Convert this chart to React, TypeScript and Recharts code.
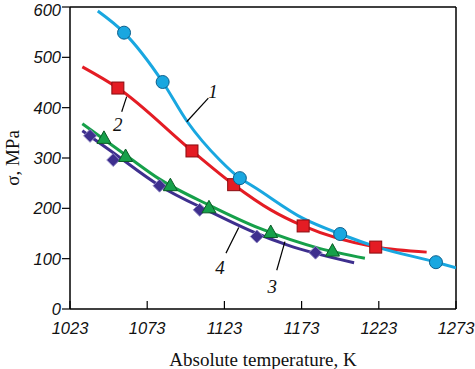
import { ComposedChart, Line, Scatter, XAxis, YAxis, ReferenceLine, ReferenceDot, Label } from 'recharts'

// smooth fitted curves
const curve1 = [[1041, 592], [1058, 549], [1083, 451], [1099, 372], [1120, 296], [1133, 260], [1142, 243], [1174, 180], [1198, 149], [1222, 123], [1260, 93], [1273, 82]]
const curve2 = [[1031, 481], [1054, 439], [1102, 314], [1129, 247], [1153, 197], [1174, 165], [1221, 123], [1254, 113]]
const curve3 = [[1031, 368], [1059, 306], [1081, 258], [1114, 205], [1146, 160], [1185, 120], [1214, 101]]
const curve4 = [[1031, 354], [1049, 315], [1081, 245], [1114, 193], [1144, 150], [1164, 127], [1207, 92]]

// measured points
const points1 = [[1058, 549], [1083, 451], [1133, 260], [1198, 149], [1260, 93]]
const points2 = [[1054, 439], [1102, 314], [1129, 247], [1174, 165], [1221, 123]]
const points3 = [[1045, 339], [1059, 303], [1088, 245], [1113, 201], [1153, 152], [1193, 115]]
const points4 = [[1036, 344], [1051, 296], [1081, 245], [1107, 197], [1144, 144], [1182, 112]]

const xTicks = [1023, 1073, 1123, 1173, 1223, 1273]
const yTicks = [0, 100, 200, 300, 400, 500, 600]

// curve labels: leader line from -> to, label position
const callouts = [
  { text: '1', from: [1098.6, 372], to: [1112.6, 419], at: [1115.6, 433] },
  { text: '2', from: [1059.7, 422], to: [1056.5, 392], at: [1053.9, 366] },
  { text: '3', from: [1162.2, 134], to: [1156.9, 77], at: [1154, 45] },
  { text: '4', from: [1132.3, 162], to: [1124, 111], at: [1120.2, 82] },
]

const toXY = (arr: number[][]) => arr.map(([x, y]) => ({ x, y }))

const C1 = '#19a7e0'
const C2 = '#e41c24'
const C3 = '#16a04a'
const C4 = '#3e2f8e'

const tickFont = { fontFamily: 'Liberation Sans', fontStyle: 'italic', fontSize: 16.5, fill: '#111' }

function Circle(p: any) {
  return <circle cx={p.cx} cy={p.cy} r={6.5} fill={C1} stroke="#0d5f8c" strokeWidth={1} />
}
function Square(p: any) {
  return <rect x={p.cx - 6} y={p.cy - 6} width={12} height={12} fill={C2} stroke="#8a0c10" strokeWidth={1} />
}
function Triangle(p: any) {
  const { cx, cy } = p
  return <polygon points={`${cx},${cy - 7.5} ${cx + 7},${cy + 5} ${cx - 7},${cy + 5}`} fill={C3} stroke="#0b5a26" strokeWidth={1} />
}
function Diamond(p: any) {
  const { cx, cy } = p
  return <polygon points={`${cx},${cy - 6.5} ${cx + 6.5},${cy} ${cx},${cy + 6.5} ${cx - 6.5},${cy}`} fill={C4} stroke="#9088c4" strokeWidth={1} />
}

export default function App() {
  return (
    <div>
      <style>{`body{margin:0}`}</style>
      <ComposedChart width={475} height={369} margin={{ top: 7, right: 19, bottom: 0, left: 0 }}>
        <XAxis dataKey="x" type="number" domain={[1023, 1273]} ticks={xTicks} allowDataOverflow
          height={60} tick={tickFont} tickSize={-8} tickMargin={21}
          axisLine={{ stroke: '#000', strokeWidth: 1.5 }} tickLine={{ stroke: '#000', strokeWidth: 1.2 }}>
          <Label value="Absolute temperature, K" position="insideBottom" offset={3}
            style={{ fontFamily: 'Liberation Serif', fontSize: 19, fill: '#111' }} />
        </XAxis>
        <YAxis type="number" domain={[0, 600]} ticks={yTicks} allowDataOverflow width={70}
          tick={tickFont} tickSize={8} tickMargin={1}
          axisLine={{ stroke: '#000', strokeWidth: 1.5 }} tickLine={{ stroke: '#000', strokeWidth: 1.2 }}>
          <Label value="σ, MPa" angle={-90} position="insideLeft" offset={12}
            style={{ fontFamily: 'Liberation Serif', fontSize: 19, fill: '#111', textAnchor: 'middle' }} />
        </YAxis>
        <ReferenceLine y={600} stroke="#000" strokeWidth={1.5} />
        <ReferenceLine x={1273} stroke="#000" strokeWidth={1.5} />

        <Line data={toXY(curve4)} dataKey="y" type="monotone" stroke={C4} strokeWidth={3} dot={false} activeDot={false} isAnimationActive={false} />
        <Line data={toXY(curve3)} dataKey="y" type="monotone" stroke={C3} strokeWidth={3} dot={false} activeDot={false} isAnimationActive={false} />
        <Line data={toXY(curve2)} dataKey="y" type="monotone" stroke={C2} strokeWidth={3} dot={false} activeDot={false} isAnimationActive={false} />
        <Line data={toXY(curve1)} dataKey="y" type="monotone" stroke={C1} strokeWidth={3} dot={false} activeDot={false} isAnimationActive={false} />

        <Scatter data={toXY(points4)} dataKey="y" shape={Diamond} isAnimationActive={false} />
        <Scatter data={toXY(points3)} dataKey="y" shape={Triangle} isAnimationActive={false} />
        <Scatter data={toXY(points2)} dataKey="y" shape={Square} isAnimationActive={false} />
        <Scatter data={toXY(points1)} dataKey="y" shape={Circle} isAnimationActive={false} />

        {callouts.map(c => (
          <ReferenceLine key={'l' + c.text} segment={[{ x: c.from[0], y: c.from[1] }, { x: c.to[0], y: c.to[1] }]}
            stroke="#000" strokeWidth={1.2} />
        ))}
        {callouts.map(c => (
          <ReferenceDot key={'t' + c.text} x={c.at[0]} y={c.at[1]} r={0} fill="none" stroke="none"
            label={(props: any) => {
              const vb = props.viewBox || {}
              return (
                <text x={vb.x} y={vb.y} textAnchor="middle" dominantBaseline="central"
                  fontFamily="Liberation Serif" fontStyle="italic" fontSize={19} fill="#111">{c.text}</text>
              )
            }} />
        ))}
      </ComposedChart>
    </div>
  )
}
